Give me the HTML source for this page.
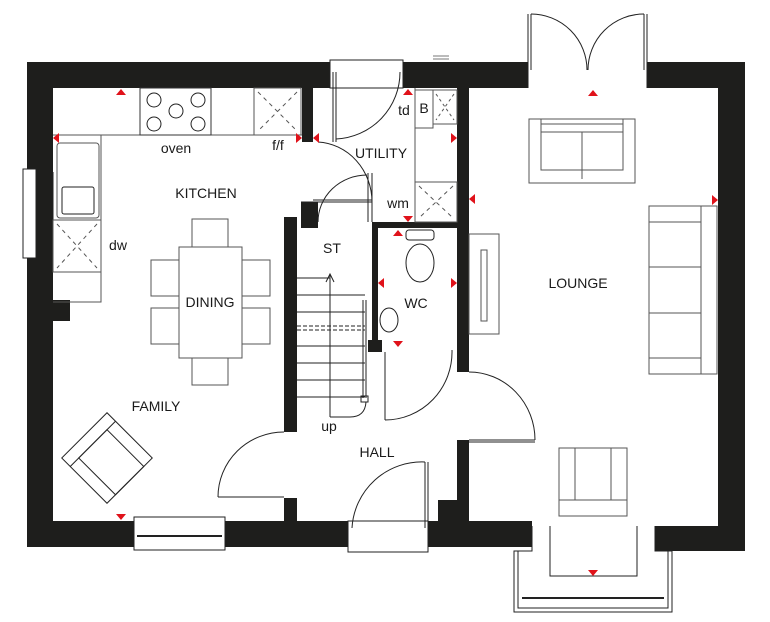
<!DOCTYPE html>
<html><head><meta charset="utf-8"><style>
html,body{margin:0;padding:0;background:#fff;}
svg{display:block;}
text{font-family:"Liberation Sans",sans-serif;font-size:14px;fill:#1a1a1a;text-anchor:middle;}
</style></head><body>
<svg width="770" height="622" viewBox="0 0 770 622" xmlns="http://www.w3.org/2000/svg">
<g fill="#1e1e1c">
<rect x="27" y="62" width="303" height="26"/>
<rect x="403" y="62" width="125" height="26"/>
<rect x="647" y="62" width="98" height="26"/>
<rect x="27" y="62" width="26" height="485"/>
<rect x="27" y="300" width="43" height="21"/>
<rect x="718" y="62" width="27" height="489"/>
<rect x="27" y="521" width="107" height="26"/>
<rect x="225" y="521" width="123" height="26"/>
<rect x="284" y="498" width="13" height="25"/>
<rect x="428" y="521" width="104" height="26"/>
<rect x="438" y="500" width="29" height="25"/>
<rect x="440" y="506" width="29" height="20"/>
<rect x="655" y="526" width="90" height="25"/>
<rect x="302" y="88" width="11" height="54"/>
<rect x="301" y="202" width="17" height="26"/>
<rect x="284" y="217" width="13" height="215"/>
<rect x="372" y="222" width="97" height="6"/>
<rect x="372" y="222" width="6" height="130"/>
<rect x="368" y="340" width="14" height="12"/>
<rect x="457" y="88" width="12" height="284"/>
<rect x="457" y="440" width="12" height="86"/>
</g>
<g fill="none" stroke="#222" stroke-width="1">
<rect x="23" y="169" width="13" height="89" fill="#fff"/>
<line x1="36" y1="169" x2="36" y2="258"/><line x1="53" y1="172" x2="53" y2="255"/>
<rect x="134" y="517" width="91" height="33" fill="#fff"/>
<line x1="137" y1="536" x2="222" y2="536" stroke-width="2"/>
<rect x="348" y="521" width="80" height="31" fill="#fff"/>
<line x1="425" y1="462" x2="425" y2="528"/><line x1="428" y1="462" x2="428" y2="528"/>
<path d="M425,462 A70,70 0 0 0 352,528"/>
<rect x="330" y="60" width="73" height="28" fill="#fff"/>
<line x1="333" y1="72" x2="333" y2="142"/><line x1="336" y1="72" x2="336" y2="142"/>
<path d="M400,72 A67,67 0 0 1 336,139"/>
<path d="M318,142 A57,60 0 0 1 372,202"/>
<line x1="368" y1="173" x2="368" y2="222"/><line x1="372" y1="173" x2="372" y2="222"/>
<line x1="301" y1="202" x2="372" y2="202"/><line x1="313" y1="200" x2="372" y2="200"/>
<path d="M367,175 A49,47 0 0 0 318,222"/>
<path d="M284,432 A66,65 0 0 0 218,497"/>
<line x1="218" y1="497" x2="284" y2="497"/>
<line x1="385" y1="352" x2="385" y2="420"/>
<path d="M385,420 A67,68 0 0 0 452,350"/>
<line x1="469" y1="440" x2="535" y2="440"/><line x1="469" y1="442" x2="535" y2="442"/>
<path d="M469,372 A66,68 0 0 1 535,440"/>
<line x1="528" y1="14" x2="528" y2="70"/><line x1="531" y1="14" x2="531" y2="70"/>
<line x1="644" y1="14" x2="644" y2="70"/><line x1="647" y1="14" x2="647" y2="70"/>
<path d="M531,14 A56,56 0 0 1 587,70"/><path d="M644,14 A56,56 0 0 0 588,70"/>
<line x1="528" y1="62" x2="528" y2="88"/><line x1="647" y1="62" x2="647" y2="88"/>
<path d="M532,526 L532,551 L514,551 L514,612 L672,612 L672,551 L655,551 L655,526"/>
<path d="M518,551 L518,608 L668,608 L668,551"/>
<line x1="522" y1="598" x2="664" y2="598" stroke-width="2"/>
<path d="M550,526 L550,576 L637,576 L637,526"/>
<path d="M53,135 L302,135" stroke="#555"/>
<path d="M101,135 L101,302 L53,302" stroke="#555"/>
<rect x="140" y="88" width="71" height="47" stroke="#333"/>
<circle cx="154" cy="100" r="7"/><circle cx="198" cy="100" r="7"/><circle cx="176" cy="111" r="7"/>
<circle cx="154" cy="124" r="7"/><circle cx="198" cy="124" r="7"/>
<rect x="254" y="88" width="47" height="47" stroke="#555"/>
<path d="M258,92 L297,131 M297,92 L258,131" stroke="#555" stroke-dasharray="4,4"/>
<rect x="57" y="143" width="42" height="75" rx="3" stroke="#555"/>
<rect x="62" y="187" width="32" height="27" rx="2"/>
<rect x="53" y="220" width="48" height="52" stroke="#555"/>
<path d="M57,224 L97,268 M97,224 L57,268" stroke="#555" stroke-dasharray="4,4"/>
<path d="M415,88 L415,222" stroke="#555"/>
<rect x="415" y="90" width="18" height="38" stroke="#555"/>
<rect x="433" y="90" width="24" height="34" stroke="#555"/>
<path d="M436,94 L454,120 M454,94 L436,120" stroke="#555" stroke-dasharray="3,3"/>
<rect x="415" y="182" width="42" height="40" stroke="#555"/>
<path d="M419,186 L453,218 M453,186 L419,218" stroke="#555" stroke-dasharray="4,4"/>
<g stroke="#555">
<rect x="179" y="247" width="63" height="111" fill="#fff"/>
<rect x="192" y="219" width="36" height="28"/><rect x="192" y="358" width="36" height="27"/>
<rect x="151" y="260" width="28" height="36"/><rect x="151" y="308" width="28" height="36"/>
<rect x="242" y="260" width="28" height="36"/><rect x="242" y="308" width="28" height="36"/>
</g>
<g transform="translate(107,458) rotate(45)">
<rect x="-32" y="-32" width="64" height="64"/>
<rect x="-20" y="-20" width="52" height="40"/>
<line x1="-20" y1="-32" x2="-20" y2="32"/>
</g>
<path d="M297,278 L330,278 M297,295 L365,295 M297,312 L365,312 M297,346 L365,346 M297,363 L365,363 M297,380 L365,380 M297,397 L365,397"/>
<path d="M297,326 L365,326 M297,330 L365,330" stroke-dasharray="4,2"/>
<line x1="330" y1="274" x2="330" y2="417"/>
<path d="M326,282 L330,274 L334,282"/>
<line x1="363" y1="300" x2="363" y2="398"/><line x1="366" y1="300" x2="366" y2="398"/>
<rect x="361" y="396" width="7" height="6"/>
<path d="M366,402 Q365,417 350,417 L330,417"/>
<rect x="406" y="230" width="28" height="10" rx="3"/>
<ellipse cx="420" cy="263" rx="14" ry="19"/>
<ellipse cx="389" cy="320" rx="9" ry="12"/>
<g stroke="#555">
<rect x="469" y="234" width="30" height="100"/>
<rect x="481" y="250" width="6" height="71"/>
<rect x="529" y="119" width="106" height="64"/>
<rect x="541" y="119" width="82" height="51"/>
<line x1="541" y1="124" x2="623" y2="124"/><line x1="582" y1="132" x2="582" y2="179"/>
<line x1="541" y1="132" x2="623" y2="132"/>
<rect x="649" y="206" width="68" height="168"/>
<line x1="701" y1="206" x2="701" y2="374"/>
<line x1="649" y1="222" x2="701" y2="222"/><line x1="649" y1="358" x2="701" y2="358"/>
<line x1="649" y1="267" x2="701" y2="267"/><line x1="649" y1="313" x2="701" y2="313"/>
<rect x="559" y="448" width="68" height="68"/>
<line x1="559" y1="500" x2="627" y2="500"/>
<line x1="575" y1="448" x2="575" y2="500"/><line x1="611" y1="448" x2="611" y2="500"/>
</g>
<path d="M433,56 L449,56 M433,59 L449,59" stroke="#777"/>
</g>
<g fill="#e0121a">
<path d="M116,95 L126,95 L121,89Z"/>
<path d="M53,138 L59,133 L59,143Z"/>
<path d="M302,138 L296,133 L296,143Z"/>
<path d="M313,138 L319,133 L319,143Z"/>
<path d="M403,95 L413,95 L408,89Z"/>
<path d="M457,138 L451,133 L451,143Z"/>
<path d="M403,216 L413,216 L408,222Z"/>
<path d="M393,236 L403,236 L398,230Z"/>
<path d="M378,283 L384,278 L384,288Z"/>
<path d="M457,283 L451,278 L451,288Z"/>
<path d="M393,341 L403,341 L398,347Z"/>
<path d="M116,514 L126,514 L121,520Z"/>
<path d="M469,199 L475,194 L475,204Z"/>
<path d="M588,96 L598,96 L593,90Z"/>
<path d="M718,200 L712,195 L712,205Z"/>
<path d="M588,570 L598,570 L593,576Z"/>
</g>
<text x="176" y="153">oven</text>
<text x="278" y="150">f/f</text>
<text x="381" y="158">UTILITY</text>
<text x="404" y="115">td</text>
<text x="424" y="113">B</text>
<text x="206" y="198">KITCHEN</text>
<text x="398" y="208">wm</text>
<text x="118" y="250">dw</text>
<text x="332" y="253">ST</text>
<text x="416" y="308">WC</text>
<text x="210" y="307">DINING</text>
<text x="156" y="411">FAMILY</text>
<text x="329" y="431">up</text>
<text x="377" y="457">HALL</text>
<text x="578" y="288">LOUNGE</text>
</svg>
</body></html>
